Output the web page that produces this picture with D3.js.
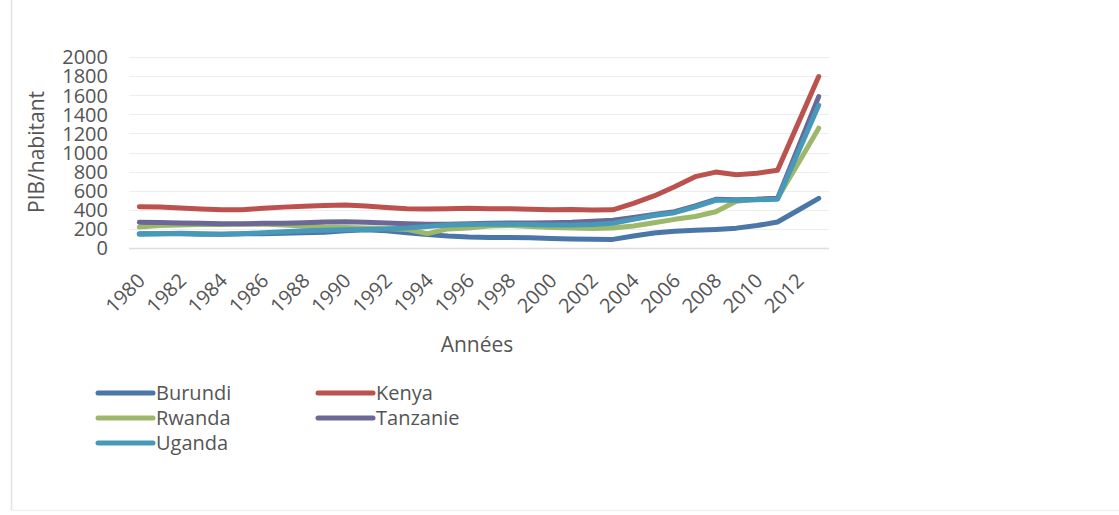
<!DOCTYPE html>
<html>
<head>
<meta charset="utf-8">
<script src="https://cdn.jsdelivr.net/npm/d3@7"></script>
<style>
  html, body { margin: 0; padding: 0; background: #fff; }
  svg { display: block; }
  text { font-family: "Open Sans", "DejaVu Sans", sans-serif; fill: #555; }
</style>
</head>
<body>
<svg id="chart" width="1119" height="515"></svg>
<script>
const years = d3.range(1980, 2014);
const yTicks = [0, 200, 400, 600, 800, 1000, 1200, 1400, 1600, 1800, 2000];
const seriesNames = ["Burundi", "Kenya", "Rwanda", "Tanzanie", "Uganda"];
const seriesColors = ["#4a76a8", "#bb524e", "#9db86a", "#6b6897", "#4699b8"];

const burundi = [150,150,148,145,145,148,150,155,160,165,180,190,180,160,140,125,115,110,110,108,100,95,92,90,125,158,175,185,195,208,235,272,395,520];
const kenya   = [432,430,420,408,400,400,415,428,438,445,450,440,425,412,408,410,415,412,410,405,400,402,398,400,468,545,642,747,795,768,782,815,1305,1795];
const rwanda  = [220,235,240,245,245,250,250,240,230,220,215,210,205,195,150,200,210,230,235,225,215,210,205,210,230,265,300,330,380,490,510,520,885,1255];
const tanzanie= [270,268,262,258,255,255,258,260,265,272,276,270,262,255,250,250,255,260,262,262,265,270,280,290,320,350,380,440,510,505,510,520,1050,1585];
const uganda  = [145,150,155,150,145,150,160,170,180,185,190,195,200,210,225,240,245,250,250,245,240,240,245,260,300,340,370,430,500,500,505,510,1000,1495];
const seriesValues = [burundi, kenya, rwanda, tanzanie, uganda];

const svg = d3.select("#chart");
const plot = { left: 129, right: 829, top: 57, bottom: 248 };

const x = d3.scaleBand().domain(years).range([plot.left, plot.right]).padding(0);
const cx = d => x(d) + x.bandwidth() / 2;
const y = d3.scaleLinear().domain([0, 2000]).range([plot.bottom, plot.top]);

// frame
svg.append("line").attr("x1", 11.5).attr("x2", 11.5).attr("y1", 0).attr("y2", 510).attr("stroke", "#e2e2e2").attr("stroke-width", 1.5);
svg.append("line").attr("x1", 11).attr("x2", 1119).attr("y1", 510.5).attr("y2", 510.5).attr("stroke", "#eeeeee").attr("stroke-width", 1);

// gridlines
svg.append("g").selectAll("line").data(yTicks.filter(t => t > 0)).join("line")
  .attr("x1", plot.left).attr("x2", plot.right)
  .attr("y1", d => Math.round(y(d)) + 0.5).attr("y2", d => Math.round(y(d)) + 0.5)
  .attr("stroke", "#ededed").attr("stroke-width", 1);

// x axis line
svg.append("line").attr("x1", plot.left).attr("x2", plot.right)
  .attr("y1", Math.round(y(0)) + 0.5).attr("y2", Math.round(y(0)) + 0.5)
  .attr("stroke", "#dcdcdc").attr("stroke-width", 1.5);

// y axis
const yAxis = d3.axisLeft(y).tickValues(yTicks).tickFormat(d3.format("d")).tickSize(0).tickPadding(0);
const gy = svg.append("g").attr("transform", "translate(108,0)").call(yAxis);
gy.select(".domain").remove();
gy.selectAll("text").style("font-size", "20px").attr("fill", "#555").attr("dy", "0.34em");

// x axis labels
const xLabels = years.filter(yr => (yr - 1980) % 2 === 0);
const xAxis = d3.axisBottom(x).tickValues(xLabels).tickSize(0).tickPadding(0);
const gx = svg.append("g").attr("transform", `translate(0,${plot.bottom})`).call(xAxis);
gx.select(".domain").remove();
gx.selectAll("text")
  .style("font-size", "20px").attr("fill", "#555")
  .attr("text-anchor", "end")
  .attr("dy", 0).attr("y", 0)
  .attr("transform", "translate(7,34) rotate(-45)");

// axis titles
svg.append("text").attr("x", 477).attr("y", 352).attr("text-anchor", "middle")
  .style("font-size", "21px").text("Années");
svg.append("text").attr("transform", "translate(44,152) rotate(-90)").attr("text-anchor", "middle")
  .style("font-size", "21px").text("PIB/habitant");

// lines
const line = d3.line().x((d, i) => cx(years[i])).y(d => y(d)).curve(d3.curveLinear);
svg.append("g").selectAll("path").data(seriesValues).join("path")
  .attr("d", d => line(d))
  .attr("fill", "none")
  .attr("stroke", (d, i) => seriesColors[i])
  .attr("stroke-width", 5)
  .attr("stroke-linejoin", "round")
  .attr("stroke-linecap", "round");

// legend
const legendPos = [[98, 393], [318, 393], [98, 418], [318, 418], [98, 443]];
const lg = svg.append("g").selectAll("g").data(seriesNames).join("g")
  .attr("transform", (d, i) => `translate(${legendPos[i][0]},${legendPos[i][1]})`);
lg.append("line").attr("x1", 0).attr("x2", 55).attr("y1", 0).attr("y2", 0)
  .attr("stroke", (d, i) => seriesColors[i]).attr("stroke-width", 5).attr("stroke-linecap", "round");
lg.append("text").attr("x", 58).attr("y", 0).attr("dy", "0.35em")
  .style("font-size", "20px").text(d => d);
</script>
</body>
</html>
